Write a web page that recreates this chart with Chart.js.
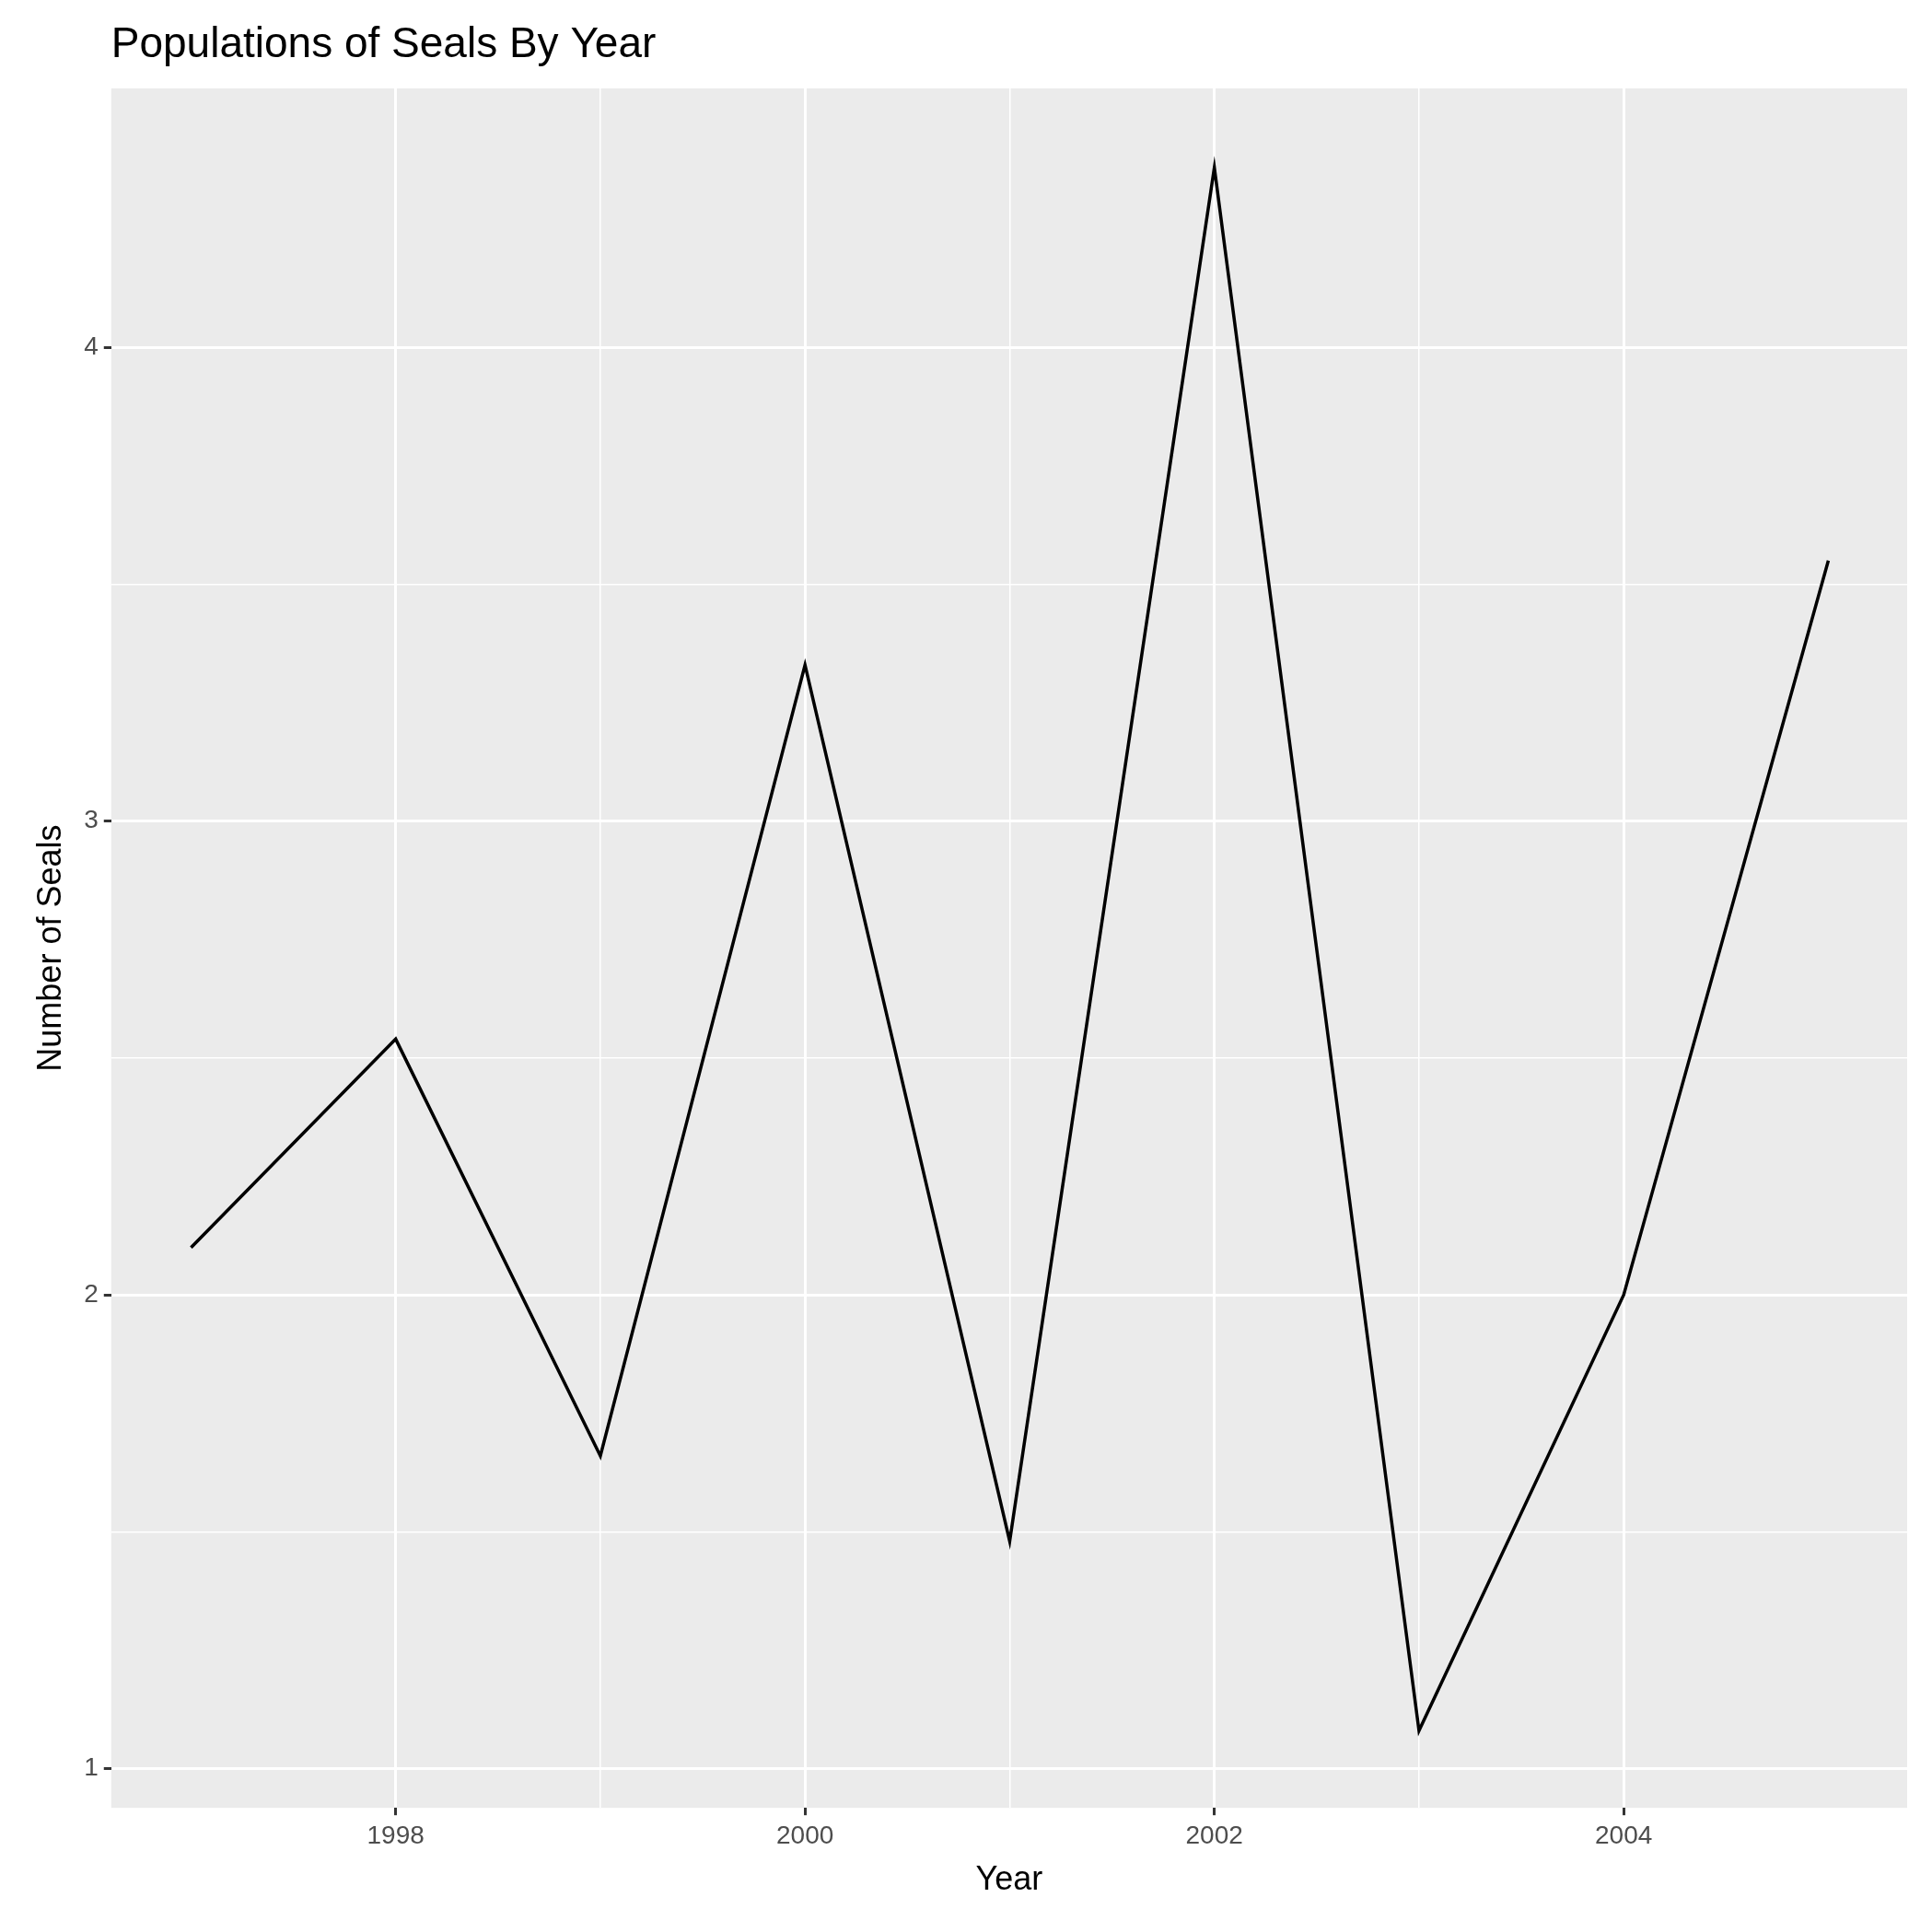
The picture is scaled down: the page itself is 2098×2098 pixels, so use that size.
<!DOCTYPE html>
<html>
<head>
<meta charset="utf-8">
<script src="https://cdn.jsdelivr.net/npm/chart.js@4"></script>
<style>
  html, body { margin: 0; padding: 0; background: #fff; }
  #wrap { width: 2098px; height: 2098px; }
</style>
</head>
<body>
<div id="wrap"><canvas id="sealChart"></canvas></div>
<script>
var years = [1997, 1998, 1999, 2000, 2001, 2002, 2003, 2004, 2005];
var seals = [2.10, 2.54, 1.66, 3.33, 1.48, 4.38, 1.08, 2.00, 3.55];
var xLabelYears = [1998, 2000, 2002, 2004];
var yLabelValues = [1, 2, 3, 4];
var chartTitle = 'Populations of Seals By Year';

var panelBg = {
  id: 'panelBg',
  beforeDraw: function(chart) {
    var a = chart.chartArea, c = chart.ctx;
    c.save();
    c.fillStyle = '#ebebeb';
    c.fillRect(a.left, a.top, a.right - a.left, a.bottom - a.top);
    c.restore();
  },
  afterDraw: function(chart) {
    var a = chart.chartArea, c = chart.ctx;
    c.save();
    c.fillStyle = '#000';
    c.font = '46px "Liberation Sans", Arial';
    c.textBaseline = 'alphabetic';
    c.fillText(chartTitle, a.left, 62);
    c.restore();
  }
};

function keepTicks(step) {
  return function(scale) {
    scale.ticks = scale.ticks.filter(function(t) {
      return Math.abs(t.value / step - Math.round(t.value / step)) < 1e-6;
    });
  };
}

var ctx = document.getElementById('sealChart').getContext('2d');
new Chart(ctx, {
  type: 'line',
  data: {
    datasets: [{
      data: years.map(function(y, i) { return { x: y, y: seals[i] }; }),
      borderColor: '#000',
      borderWidth: 3.5,
      pointRadius: 0,
      tension: 0
    }]
  },
  options: {
    responsive: true,
    maintainAspectRatio: false,
    devicePixelRatio: 1,
    animation: false,
    layout: { padding: { left: 30, right: 27, top: 96, bottom: 30 } },
    plugins: {
      legend: { display: false },
      tooltip: { enabled: false },
      title: { display: false }
    },
    scales: {
      x: {
        type: 'linear',
        min: 1996.61,
        max: 2005.385,
        afterBuildTicks: keepTicks(1),
        ticks: {
          stepSize: 1,
          color: '#4d4d4d',
          font: { family: 'Liberation Sans, Arial', size: 28 },
          maxRotation: 0,
          autoSkip: false,
          padding: 6,
          callback: function(v) { return xLabelYears.indexOf(v) >= 0 ? String(v) : ''; }
        },
        grid: {
          color: '#ffffff',
          lineWidth: function(c) { return xLabelYears.indexOf(c.tick && c.tick.value) >= 0 ? 3 : 1.5; },
          tickColor: function(c) { return xLabelYears.indexOf(c.tick && c.tick.value) >= 0 ? '#333' : 'rgba(0,0,0,0)'; },
          tickLength: 8
        },
        border: { display: false },
        title: {
          display: true,
          text: 'Year',
          color: '#000',
          font: { family: 'Liberation Sans, Arial', size: 36 },
          padding: { top: 4 }
        }
      },
      y: {
        min: 0.917,
        max: 4.547,
        afterBuildTicks: keepTicks(0.5),
        ticks: {
          stepSize: 0.5,
          color: '#4d4d4d',
          font: { family: 'Liberation Sans, Arial', size: 28 },
          autoSkip: false,
          padding: 6,
          callback: function(v) { return yLabelValues.indexOf(v) >= 0 ? String(v) : ''; }
        },
        grid: {
          color: '#ffffff',
          lineWidth: function(c) { return yLabelValues.indexOf(c.tick && c.tick.value) >= 0 ? 3 : 1.5; },
          tickColor: function(c) { return yLabelValues.indexOf(c.tick && c.tick.value) >= 0 ? '#333' : 'rgba(0,0,0,0)'; },
          tickLength: 8
        },
        border: { display: false },
        title: {
          display: true,
          text: 'Number of Seals',
          color: '#000',
          font: { family: 'Liberation Sans, Arial', size: 36 },
          padding: { bottom: 8 }
        }
      }
    }
  },
  plugins: [panelBg]
});
</script>
</body>
</html>
